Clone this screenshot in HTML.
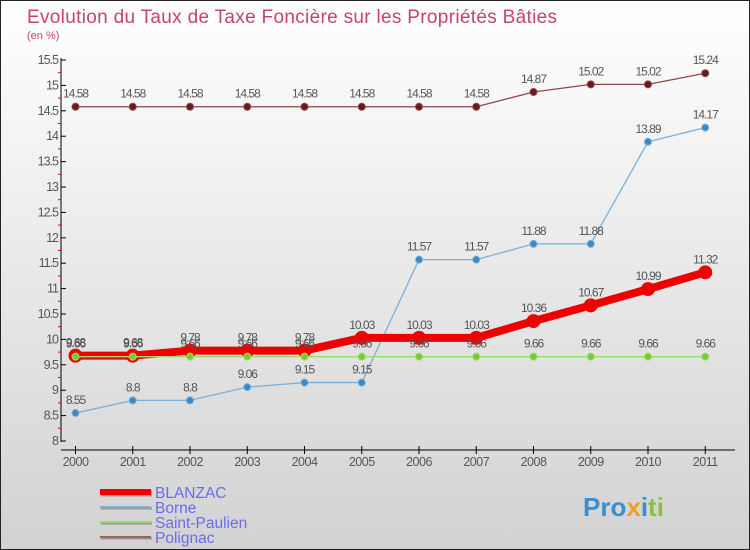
<!DOCTYPE html>
<html><head><meta charset="utf-8"><style>
body{margin:0;width:750px;height:550px;overflow:hidden;font-family:"Liberation Sans",sans-serif}
#c{position:absolute;left:0;top:0;width:748px;height:548px;border:1px solid #222;background:linear-gradient(#ffffff,#d2d2d2)}
</style></head><body>
<div id="c">
<svg id="s" width="750" height="550" style="position:absolute;left:-1px;top:-1px">
<text x="27" y="23" font-size="19" fill="#c8426f" textLength="530">Evolution du Taux de Taxe Foncière sur les Propriétés Bâties</text>
<text x="27" y="39" font-size="11" fill="#c8426f">(en %)</text>
</svg></div>
<script>
const years=["2000","2001","2002","2003","2004","2005","2006","2007","2008","2009","2010","2011"];
const blanzac=[9.68,9.68,9.78,9.78,9.78,10.03,10.03,10.03,10.36,10.67,10.99,11.32];
const borne=[8.55,8.8,8.8,9.06,9.15,9.15,11.57,11.57,11.88,11.88,13.89,14.17];
const saintPaulien=[9.66,9.66,9.66,9.66,9.66,9.66,9.66,9.66,9.66,9.66,9.66,9.66];
const polignac=[14.58,14.58,14.58,14.58,14.58,14.58,14.58,14.58,14.87,15.02,15.02,15.24];
const yTicks=[8,8.5,9,9.5,10,10.5,11,11.5,12,12.5,13,13.5,14,14.5,15,15.5];
const NS="http://www.w3.org/2000/svg",svg=document.getElementById('s');
const y=v=>441-(v-8)*50.8, x=i=>75.5+i*57.25;
function el(t,a,p){const e=document.createElementNS(NS,t);for(const k in a)e.setAttribute(k,a[k]);(p||svg).appendChild(e);return e;}
let ax=el('line',{x1:61,y1:58,x2:61,y2:442,stroke:'#000'});


let xa=el('line',{x1:61,y1:450,x2:735,y2:450,stroke:'#000'});


yTicks.forEach((v,i)=>{
  el('line',{x1:61,y1:y(v),x2:66,y2:y(v),stroke:'#000'});
  if(i<yTicks.length-1)el('line',{x1:58,y1:y(v+0.25),x2:61,y2:y(v+0.25),stroke:'#e00'});
  const t=el('text',{x:58,y:y(v)+4,'font-size':12.5,fill:'#555','text-anchor':'end','letter-spacing':'-1'});
  t.textContent=String(v);
  
  
});
years.forEach((yr,i)=>{
  el('line',{x1:x(i),y1:446,x2:x(i),y2:454,stroke:'#000'});
  const t=el('text',{x:x(i),y:466,'font-size':12.5,fill:'#555','text-anchor':'middle','letter-spacing':'-0.5'});
  t.textContent=yr;
  
  
});
function series(d,col,w,r,fill,name){
  const g=el('g',{});
  
  
  el('polyline',{points:d.map((v,i)=>x(i)+','+y(v)).join(' '),fill:'none',stroke:col,'stroke-width':w},g);
  d.forEach((v,i)=>{
    const c=el('circle',{cx:x(i),cy:y(v),r:r,fill:fill,stroke:col,'stroke-width':1},g);
    
    
    const t=el('text',{x:x(i),y:y(v)-9,'font-size':12,fill:'#555','text-anchor':'middle','letter-spacing':'-1'},g);
    t.textContent=String(v);
    
    
  });
}
series(polignac,'#8a4a4a',1.3,3.5,'#6a1a1a','polignac');
series(borne,'#7ab0d8',1.3,3.5,'#3a88c8','borne');
series(blanzac,'#ee0000',8,6.5,'#ee0000','blanzac');
series(saintPaulien,'#99dd66',1.3,3.5,'#77cc33','saint-paulien');
const leg=[['BLANZAC','#ee0000',6],['Borne','#7ab0d8',2],['Saint-Paulien','#99dd66',2],['Polignac','#a06060',2]];
leg.forEach((L,i)=>{
  const yy=492+i*15;
  const g=el('g',{});
  
  
  el('line',{x1:101,y1:yy+1.5,x2:152,y2:yy+1.5,stroke:'#999','stroke-width':L[2]},g);
  el('line',{x1:100,y1:yy,x2:151,y2:yy,stroke:L[1],'stroke-width':L[2]},g);
  const t=el('text',{x:155,y:yy+6,'font-size':15.5,fill:'#6b6bf0'},g);
  t.textContent=L[0];
});
const lg=el('text',{x:583,y:516,'font-size':26,'font-weight':'bold',fill:'#3a8fd0'});


lg.innerHTML='Pro<tspan fill="#f0a020">x</tspan><tspan fill="#3a8fd0">i</tspan><tspan fill="#8ac040">ti</tspan>';
</script>
</body></html>
